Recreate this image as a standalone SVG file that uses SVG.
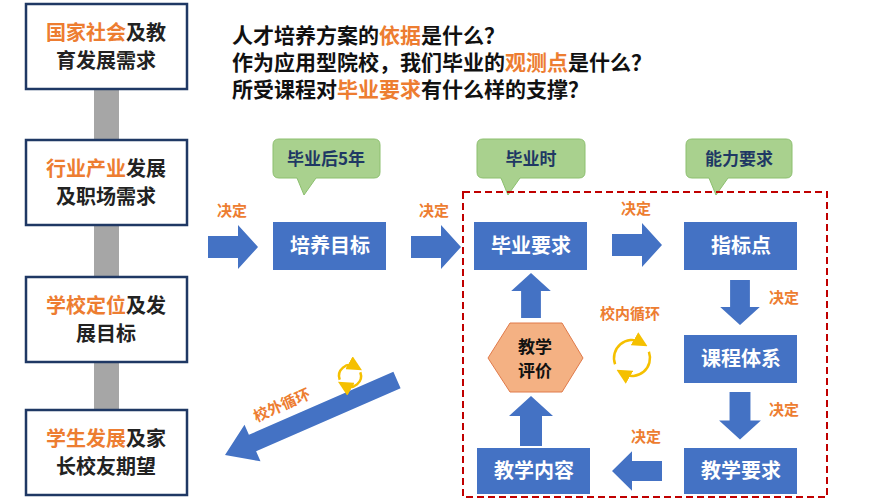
<svg xmlns="http://www.w3.org/2000/svg" width="887" height="500" viewBox="0 0 887 500">
<defs>
<style>
text{font-family:"Noto Sans CJK SC","Liberation Sans",sans-serif;font-weight:bold}
.lb{fill:#fff;stroke:#1f3864;stroke-width:2.5}
.lt{font-size:20px;fill:#222;text-anchor:middle}
.o{fill:#ed7d31}
.bb{fill:#4472c4}
.bt{font-size:20px;fill:#fff;text-anchor:middle}
.call{fill:#a9d18e;stroke:#8cbf6e}
.ct{font-size:17px;fill:#1f3864;text-anchor:middle}
.dec{font-size:15px;fill:#ed7d31;text-anchor:middle}
.arr{fill:#4472c4}
.cyc{fill:none;stroke:#f5c000;stroke-width:2.5}
.tt{font-size:21px;fill:#111}
</style>
<marker id="ah" markerWidth="6" markerHeight="6" refX="3" refY="3" orient="auto"><path d="M0,0L6,3L0,6z" fill="#f5c000"/></marker>
<path id="ra" d="M0,-11H30V-22L50,0L30,22V11H0z"/>
</defs>
<rect x="94" y="89" width="25" height="321" fill="#a6a6a6"/>
<g id="n1"><rect class="lb" x="26" y="4" width="161" height="85"/><text class="lt" x="106" y="40"><tspan class="o">国家社会</tspan>及教</text><text class="lt" x="106" y="68">育发展需求</text></g>
<g id="n2"><rect class="lb" x="26" y="140" width="161" height="85"/><text class="lt" x="106" y="176"><tspan class="o">行业产业</tspan>发展</text><text class="lt" x="106" y="204">及职场需求</text></g>
<g id="n3"><rect class="lb" x="26" y="277" width="161" height="85"/><text class="lt" x="106" y="313"><tspan class="o">学校定位</tspan>及发</text><text class="lt" x="106" y="341">展目标</text></g>
<g id="n4"><rect class="lb" x="26" y="410" width="161" height="85"/><text class="lt" x="106" y="446"><tspan class="o">学生发展</tspan>及家</text><text class="lt" x="106" y="474">长校友期望</text></g>
<g id="title">
<text class="tt" x="232" y="43">人才培养方案的<tspan class="o">依据</tspan>是什么？</text>
<text class="tt" x="232" y="70">作为应用型院校，我们毕业的<tspan class="o">观测点</tspan>是什么？</text>
<text class="tt" x="232" y="97">所受课程对<tspan class="o">毕业要求</tspan>有什么样的支撑？</text>
</g>
<g id="callouts">
<path class="call" d="M279,139H374Q380,139 380,145V172Q380,178 374,178H316L304,195L297,178H279Q273,178 273,172V145Q273,139 279,139z"/><text class="ct" x="326" y="165">毕业后5年</text>
<path class="call" d="M483,139H579Q585,139 585,145V172Q585,178 579,178H520L508,195L501,178H483Q477,178 477,172V145Q477,139 483,139z"/><text class="ct" x="531" y="165">毕业时</text>
<path class="call" d="M692,139H786Q792,139 792,145V172Q792,178 786,178H728L716,195L709,178H692Q686,178 686,172V145Q686,139 692,139z"/><text class="ct" x="739" y="165">能力要求</text>
</g>
<rect x="463" y="192" width="364" height="305" fill="none" stroke="#c00000" stroke-width="2" stroke-dasharray="7,4"/>
<g id="b1"><rect class="bb" x="273" y="222" width="113" height="48"/><text class="bt" x="330" y="253">培养目标</text></g>
<g id="b2"><rect class="bb" x="474" y="222" width="113" height="48"/><text class="bt" x="531" y="253">毕业要求</text></g>
<g id="b3"><rect class="bb" x="684" y="222" width="113" height="48"/><text class="bt" x="741" y="253">指标点</text></g>
<g id="b4"><rect class="bb" x="684" y="335" width="113" height="48"/><text class="bt" x="741" y="366">课程体系</text></g>
<g id="b5"><rect class="bb" x="684" y="448" width="113" height="46"/><text class="bt" x="741" y="478">教学要求</text></g>
<g id="b6"><rect class="bb" x="477" y="448" width="113" height="46"/><text class="bt" x="534" y="478">教学内容</text></g>
<g id="hex"><path d="M510,323H562L583,358L562,392H510L488,358z" fill="#f4b183" stroke="#e07a4a"/><text x="535" y="353" style="font-size:17px;text-anchor:middle" fill="#111">教学</text><text x="535" y="377" style="font-size:17px;text-anchor:middle" fill="#111">评价</text></g>
<g id="connectors">
<use href="#ra" class="arr" transform="translate(208,247)"/>
<use href="#ra" class="arr" transform="translate(411,247)"/>
<use href="#ra" class="arr" transform="translate(612,245)"/>
<use href="#ra" class="arr" transform="translate(740,280) rotate(90) scale(0.9)"/>
<use href="#ra" class="arr" transform="translate(740,392) rotate(90) scale(0.95)"/>
<use href="#ra" class="arr" transform="translate(662,471) rotate(180) scale(1,0.9)"/>
<use href="#ra" class="arr" transform="translate(531,318) rotate(-90) scale(0.9)"/>
<use href="#ra" class="arr" transform="translate(531,446) rotate(-90)"/>
<path class="arr" d="M400.6,388.2L256.1,451.2L260.5,461.3L225,455L244.5,424.7L248.9,434.8L393.4,371.8z"/>
<text class="dec" x="232" y="216">决定</text>
<text class="dec" x="434" y="216">决定</text>
<text class="dec" x="636" y="214">决定</text>
<text class="dec" x="784" y="303">决定</text>
<text class="dec" x="784" y="415">决定</text>
<text class="dec" x="646" y="442">决定</text>
<text class="dec" x="630" y="319">校内循环</text>
<text class="dec" transform="translate(284,410) rotate(-24)">校外循环</text>
<path class="cyc" marker-end="url(#ah)" d="M615.1,364.2A18,18 0 0 1 641,342.4"/>
<path class="cyc" marker-end="url(#ah)" d="M648.9,351.8A18,18 0 0 1 623,373.6"/>
<path class="cyc" stroke-width="2" marker-end="url(#ah)" d="M339.7,379.8A11,11 0 0 1 355.5,366.5"/>
<path class="cyc" stroke-width="2" marker-end="url(#ah)" d="M360.3,372.2A11,11 0 0 1 344.5,385.5"/>
</g>
</svg>
